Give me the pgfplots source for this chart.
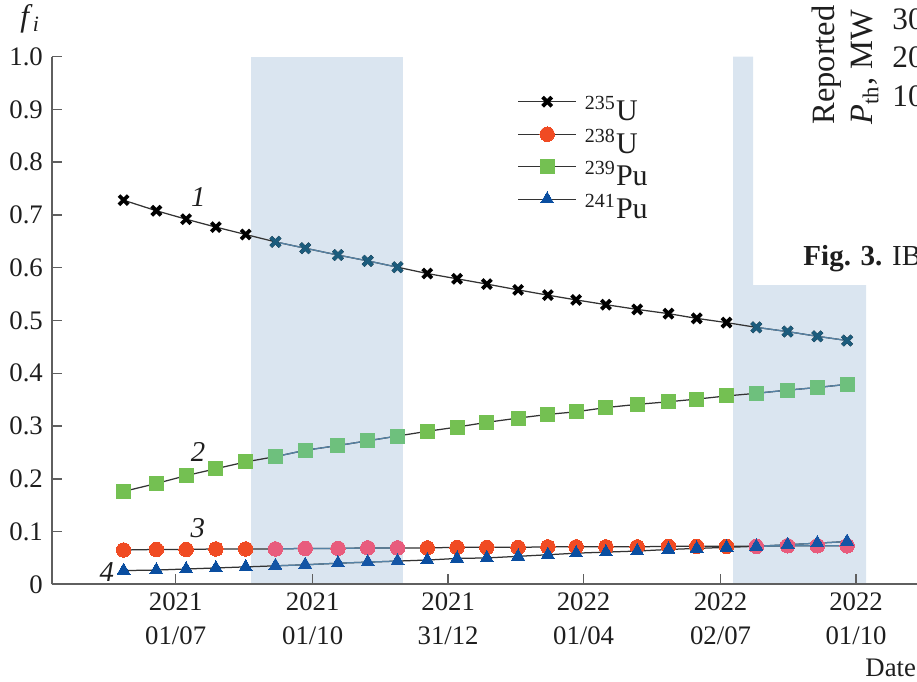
\documentclass[border=0pt]{standalone}
\usepackage{fontspec}
\setmainfont{Liberation Serif}
\usepackage{pgfplots}
\usepackage{pgfplotstable}
\pgfplotsset{compat=1.18}
\definecolor{shadeblue}{RGB}{218,229,240}
\definecolor{ured}{RGB}{240,75,35}
\definecolor{upink}{RGB}{232,92,125}
\definecolor{pgreen}{RGB}{116,192,82}
\definecolor{pgreen2}{RGB}{110,192,125}
\definecolor{pblue}{RGB}{10,78,160}
\definecolor{pblue2}{RGB}{20,85,165}
\definecolor{xteal}{RGB}{28,92,125}
\definecolor{lteal}{RGB}{85,130,165}
\definecolor{axgray}{RGB}{95,95,95}
\definecolor{txt}{RGB}{30,30,30}
\newcommand{\fs}{\fontsize{10.7}{13.6}\selectfont}
\newcommand{\fl}{\fontsize{12}{13.6}\selectfont}

\pgfplotstableread{
x    u235  u238  pu239 pu241
-35  0.728 0.065 0.176 0.026
-13  0.708 0.066 0.191 0.027
7    0.692 0.066 0.206 0.029
27   0.677 0.067 0.219 0.031
47   0.663 0.067 0.232 0.033
67   0.649 0.067 0.242 0.035
87   0.637 0.068 0.254 0.037
109  0.624 0.068 0.263 0.040
129  0.613 0.069 0.272 0.042
149  0.601 0.069 0.281 0.044
169  0.589 0.069 0.290 0.046
189  0.579 0.070 0.298 0.049
209  0.569 0.070 0.307 0.050
230  0.558 0.070 0.315 0.053
250  0.548 0.071 0.322 0.056
269  0.539 0.071 0.327 0.059
289  0.530 0.071 0.335 0.061
310  0.521 0.071 0.341 0.063
331  0.513 0.072 0.346 0.066
350  0.504 0.072 0.351 0.068
370  0.496 0.072 0.357 0.070
390  0.487 0.072 0.362 0.072
411  0.479 0.073 0.368 0.075
431  0.470 0.073 0.373 0.078
451  0.462 0.073 0.379 0.081
}\data

\pgfplotstableread{
x    u235  u238  pu239 pu241
67   0.649 0.067 0.242 0.035
87   0.637 0.068 0.254 0.037
109  0.624 0.068 0.263 0.040
129  0.613 0.069 0.272 0.042
149  0.601 0.069 0.281 0.044
nan  nan   nan   nan   nan
390  0.487 0.072 0.362 0.072
411  0.479 0.073 0.368 0.075
431  0.470 0.073 0.373 0.078
451  0.462 0.073 0.379 0.081
}\inside

\begin{document}
\begin{tikzpicture}
\path[use as bounding box, clip] (0,0) rectangle (366.8pt,272.8pt);
\begin{axis}[
  at={(20.68pt,39.08pt)}, anchor=south west,
  scale only axis, width=349.3pt, height=211.04pt,
  xmin=-83.3, xmax=503.3, ymin=0, ymax=1,
  axis lines=left, axis line style={-, draw=axgray, line width=0.7pt},
  axis on top,
  xtick={0,92,183,274,366,457},
  xticklabels={{2021\\01/07},{2021\\01/10},{2021\\31/12},{2022\\01/04},{2022\\02/07},{2022\\01/10}},
  ytick={0,0.1,0.2,0.3,0.4,0.5,0.6,0.7,0.8,0.9,1.0},
  yticklabels={0,0.1,0.2,0.3,0.4,0.5,0.6,0.7,0.8,0.9,1.0},
  tick align=inside, major tick length=4pt,
  tick style={draw=axgray, line width=0.6pt},
  xtick pos=bottom, ytick pos=left,
  x tick label style={align=center, font=\fs, text=txt},
  y tick label style={font=\fs, text=txt},
  unbounded coords=jump,
  legend cell align=left,
  legend image code/.code={\draw[mark repeat=2, mark phase=2, #1] plot coordinates {(0pt,3.8pt) (11.6pt,3.8pt) (23.2pt,3.8pt)};},
  legend style={draw=none, fill=none, inner sep=0pt, at={(axis cs:229.3,0.927)}, anchor=north west,
    font=\fl, text=txt, row sep=0.1pt,
    nodes={inner xsep=3.2pt, inner ysep=0pt, text height=10pt, text depth=2.4pt}},
]
\fill[shadeblue] (axis cs:50.6,0) rectangle (axis cs:152.7,1);
\fill[shadeblue] (axis cs:374.4,0) -- (axis cs:374.4,1) -- (axis cs:387.8,1) -- (axis cs:387.8,0.567) -- (axis cs:463.7,0.567) -- (axis cs:463.7,0) -- cycle;

\addplot[line width=0.5pt, draw=black!80, mark=x, mark size=2.6pt, mark options={draw=black, line width=1.5pt}] table[x=x,y=u235]{\data};
\addlegendentry{\textsuperscript{235}U}
\addplot[line width=0.5pt, draw=black!80, mark=*, mark size=2.9pt, mark options={draw=ured, fill=ured, line width=0pt}] table[x=x,y=u238]{\data};
\addlegendentry{\textsuperscript{238}U}
\addplot[line width=0.5pt, draw=black!80, mark=square*, mark size=2.8pt, mark options={draw=pgreen, fill=pgreen, line width=0pt}] table[x=x,y=pu239]{\data};
\addlegendentry{\textsuperscript{239}Pu}
\addplot[line width=0.5pt, draw=black!80, mark=triangle*, mark size=3pt, mark options={draw=pblue, fill=pblue, line width=0pt}] table[x=x,y=pu241]{\data};
\addlegendentry{\textsuperscript{241}Pu}

\addplot[forget plot, line width=0.5pt, draw=lteal, mark=x, mark size=2.6pt, mark options={draw=xteal, line width=1.5pt}] table[x=x,y=u235]{\inside};
\addplot[forget plot, line width=0.5pt, draw=lteal, mark=*, mark size=2.9pt, mark options={draw=upink, fill=upink, line width=0pt}] table[x=x,y=u238]{\inside};
\addplot[forget plot, line width=0.5pt, draw=lteal, mark=square*, mark size=2.8pt, mark options={draw=pgreen2, fill=pgreen2, line width=0pt}] table[x=x,y=pu239]{\inside};
\addplot[forget plot, line width=0.5pt, draw=lteal, mark=triangle*, mark size=3pt, mark options={draw=pblue2, fill=pblue2, line width=0pt}] table[x=x,y=pu241]{\inside};
\end{axis}

\begin{scope}[x=0.4pt,y=0.4pt,font=\fs,text=txt]
\node[font=\fontsize{11.5}{13}\selectfont] at (198.3,{682-196.7}) {\textit{1}};
\node[font=\fontsize{11.5}{13}\selectfont] at (198,{682-451.7}) {\textit{2}};
\node[font=\fontsize{11.5}{13}\selectfont] at (197.7,{682-528.3}) {\textit{3}};
\node[font=\fontsize{11.5}{13}\selectfont] at (106.7,{682-571.7}) {\textit{4}};
\node[anchor=base west, inner sep=0pt, font=\fontsize{12.5}{14}\selectfont] at (20,{682-27}) {\textit{f}\textsubscript{\textit{i}}};
\node[anchor=base west, inner sep=0pt] at (865,{682-677}) {Date};
\node[anchor=base west, inner sep=0pt, rotate=90, font=\fontsize{13}{15}\selectfont] at (835,{682-125}) {Reported};
\node[anchor=base west, inner sep=0pt, rotate=90, font=\fontsize{13}{15}\selectfont] at (873,{682-125}) {\textit{P}\textsubscript{th}, MW};
\node[anchor=base west, inner sep=0pt, font=\fontsize{12.5}{14}\selectfont] at (892,{682-30}) {30};
\node[anchor=base west, inner sep=0pt, font=\fontsize{12.5}{14}\selectfont] at (892,{682-68}) {20};
\node[anchor=base west, inner sep=0pt, font=\fontsize{12.5}{14}\selectfont] at (892,{682-107}) {10};
\node[anchor=base west, inner sep=0pt, font=\fontsize{11.6}{13}\selectfont] at (803,{682-266}) {\textbf{Fig. 3.} IB};
\end{scope}
\end{tikzpicture}
\end{document}
